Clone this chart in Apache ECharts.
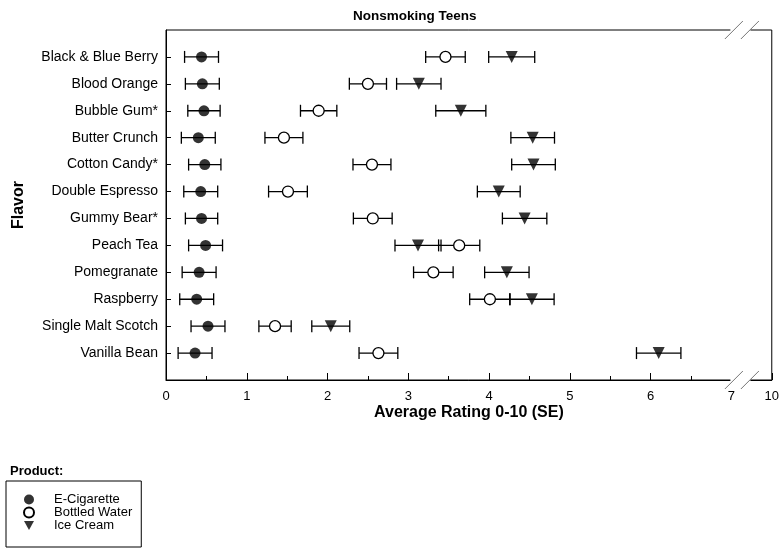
<!DOCTYPE html>
<html>
<head>
<meta charset="utf-8">
<script src="https://cdn.jsdelivr.net/npm/echarts@6/dist/echarts.min.js"></script>
<style>html,body{margin:0;padding:0;background:#fff}#c{width:782px;height:550px}</style>
</head>
<body>
<div id="c"></div>
<script>
const categories = ["Black & Blue Berry","Blood Orange","Bubble Gum*","Butter Crunch","Cotton Candy*","Double Espresso","Gummy Bear*","Peach Tea","Pomegranate","Raspberry","Single Malt Scotch","Vanilla Bean"];
const ecigMean = [0.44,0.45,0.47,0.40,0.48,0.43,0.44,0.49,0.41,0.38,0.52,0.36];
const ecigSE   = [0.21,0.21,0.20,0.21,0.20,0.21,0.20,0.21,0.21,0.21,0.21,0.21];
const waterMean = [3.46,2.50,1.89,1.46,2.55,1.51,2.56,3.63,3.31,4.01,1.35,2.63];
const waterSE   = [0.245,0.23,0.225,0.235,0.235,0.24,0.24,0.255,0.245,0.25,0.20,0.24];
const iceMean = [4.28,3.13,3.65,4.54,4.55,4.12,4.44,3.12,4.22,4.53,2.04,6.10];
const iceSE   = [0.285,0.275,0.31,0.27,0.27,0.265,0.275,0.285,0.275,0.275,0.235,0.275];
const xTickLabels = {0:"0",1:"1",2:"2",3:"3",4:"4",5:"5",6:"6",7:"7",7.5:"10"};
const seriesNames = ["E-Cigarette","Bottled Water","Ice Cream"];

const FONT = "Liberation Sans, Arial, sans-serif";
const yCats = [""].concat(categories, [""]);
const chart = echarts.init(document.getElementById('c'), null, {renderer:'canvas'});

function pts(mean){ return mean.map((v,i)=>[v, i+1]); }
function bars(mean, se){ return mean.map((v,i)=>[v-se[i], v+se[i], i+1]); }
const lineStyle = {stroke:'#000', lineWidth:1.3};
function renderErr(params, api){
  const y = api.value(2);
  const a = api.coord([api.value(0), y]);
  const b = api.coord([api.value(1), y]);
  const h = 6;
  return {type:'group', children:[
    {type:'line', shape:{x1:a[0],y1:a[1],x2:b[0],y2:b[1]}, style:lineStyle},
    {type:'line', shape:{x1:a[0],y1:a[1]-h,x2:a[0],y2:a[1]+h}, style:lineStyle},
    {type:'line', shape:{x1:b[0],y1:b[1]-h,x2:b[0],y2:b[1]+h}, style:lineStyle}
  ]};
}
function errSeries(name, mean, se){
  return {type:'custom', name:name+' SE', renderItem:renderErr, data:bars(mean,se),
    encode:{x:[0,1], y:2}, z:2, silent:true};
}
const invTri = 'path://M0,0 L10,0 L5,9 Z';

const option = {
  animation:false,
  backgroundColor:'#fff',
  textStyle:{fontFamily:FONT},
  title:[
    {text:'Nonsmoking Teens', left:353, top:9, padding:0, textStyle:{fontFamily:FONT, fontSize:13.5, fontWeight:'bold', color:'#000'}},
    {text:'Product:', left:10, top:465, padding:0, textStyle:{fontFamily:FONT, fontSize:13, fontWeight:'bold', color:'#000'}}
  ],
  grid:{left:166, right:7, top:30, bottom:170, show:true, borderColor:'#000', borderWidth:1, backgroundColor:'transparent'},
  legend:{
    data:[{name:seriesNames[0], icon:'circle'},{name:seriesNames[1], icon:'circle'},{name:seriesNames[2], icon:invTri}],
    orient:'vertical', left:6, top:481, height:40,
    itemWidth:10, itemHeight:10, itemGap:0,
    padding:[12,9,15,17], borderColor:'#000', borderWidth:1,
    textStyle:{fontFamily:FONT, fontSize:13, color:'#000', lineHeight:12, padding:[0,0,0,15]},
    selectedMode:false
  },
  xAxis:[{
    type:'value', min:0, max:7.5, interval:1, position:'bottom',
    name:'Average Rating 0-10 (SE)', nameLocation:'middle', nameGap:25, nameMoveOverlap:false,
    nameTextStyle:{fontFamily:FONT, fontSize:16, fontWeight:'bold', color:'#000'},
    axisLine:{show:true, lineStyle:{color:'#000', width:1}},
    axisTick:{show:true, inside:true, length:7, lineStyle:{color:'#000'}},
    splitLine:{show:false},
    axisLabel:{fontFamily:FONT, fontSize:13, color:'#000', margin:10,
      formatter:v=> (xTickLabels[v]!==undefined ? xTickLabels[v] : '')}
  },{
    type:'value', min:0, max:7.5, interval:0.5, position:'bottom',
    axisLine:{show:false}, axisLabel:{show:false}, splitLine:{show:false},
    axisTick:{show:true, inside:true, length:4, lineStyle:{color:'#000'}}
  }],
  yAxis:{
    type:'category', data:yCats, inverse:true, boundaryGap:false,
    name:'Flavor', nameLocation:'middle', nameGap:139, nameMoveOverlap:false,
    nameTextStyle:{fontFamily:FONT, fontSize:16, fontWeight:'bold', color:'#000'},
    axisLine:{show:true, lineStyle:{color:'#000'}},
    axisTick:{show:true, inside:true, length:5, interval:(i)=>i>0&&i<yCats.length-1, lineStyle:{color:'#000'}},
    axisLabel:{fontFamily:FONT, fontSize:14, color:'#000', margin:8, interval:(i)=>i>0&&i<yCats.length-1},
    splitLine:{show:false}
  },
  series:[
    errSeries(seriesNames[0], ecigMean, ecigSE),
    errSeries(seriesNames[1], waterMean, waterSE),
    errSeries(seriesNames[2], iceMean, iceSE),
    {type:'scatter', name:seriesNames[0], data:pts(ecigMean), symbol:'circle', symbolSize:11, z:3,
      itemStyle:{color:'#000'}, emphasis:{disabled:true}},
    {type:'scatter', name:seriesNames[1], data:pts(waterMean), symbol:'circle', symbolSize:11, z:3,
      itemStyle:{color:'#fff', borderColor:'#000', borderWidth:1.3, opacity:1}, emphasis:{disabled:true}},
    {type:'scatter', name:seriesNames[2], data:pts(iceMean), symbol:'triangle', symbolRotate:180, symbolSize:12, z:3,
      itemStyle:{color:'#000'}, emphasis:{disabled:true}}
  ]
};
chart.setOption(option);

// axis break decoration at 7
const x7 = chart.convertToPixel({xAxisIndex:0}, 7);
const yTop = 30, yBot = 550 - 170;
const g = [];
[yTop, yBot].forEach(yy=>{
  g.push({type:'rect', shape:{x:x7-1, y:yy-8, width:20, height:9.5}, style:{fill:'#fff'}, z:100});
  [x7+2.5, x7+18.5].forEach(cx=>{
    g.push({type:'line', shape:{x1:cx-9, y1:yy+9, x2:cx+9, y2:yy-9}, style:{stroke:'#777', lineWidth:1}, z:101});
  });
});
chart.setOption({graphic:g});
</script>
</body>
</html>
